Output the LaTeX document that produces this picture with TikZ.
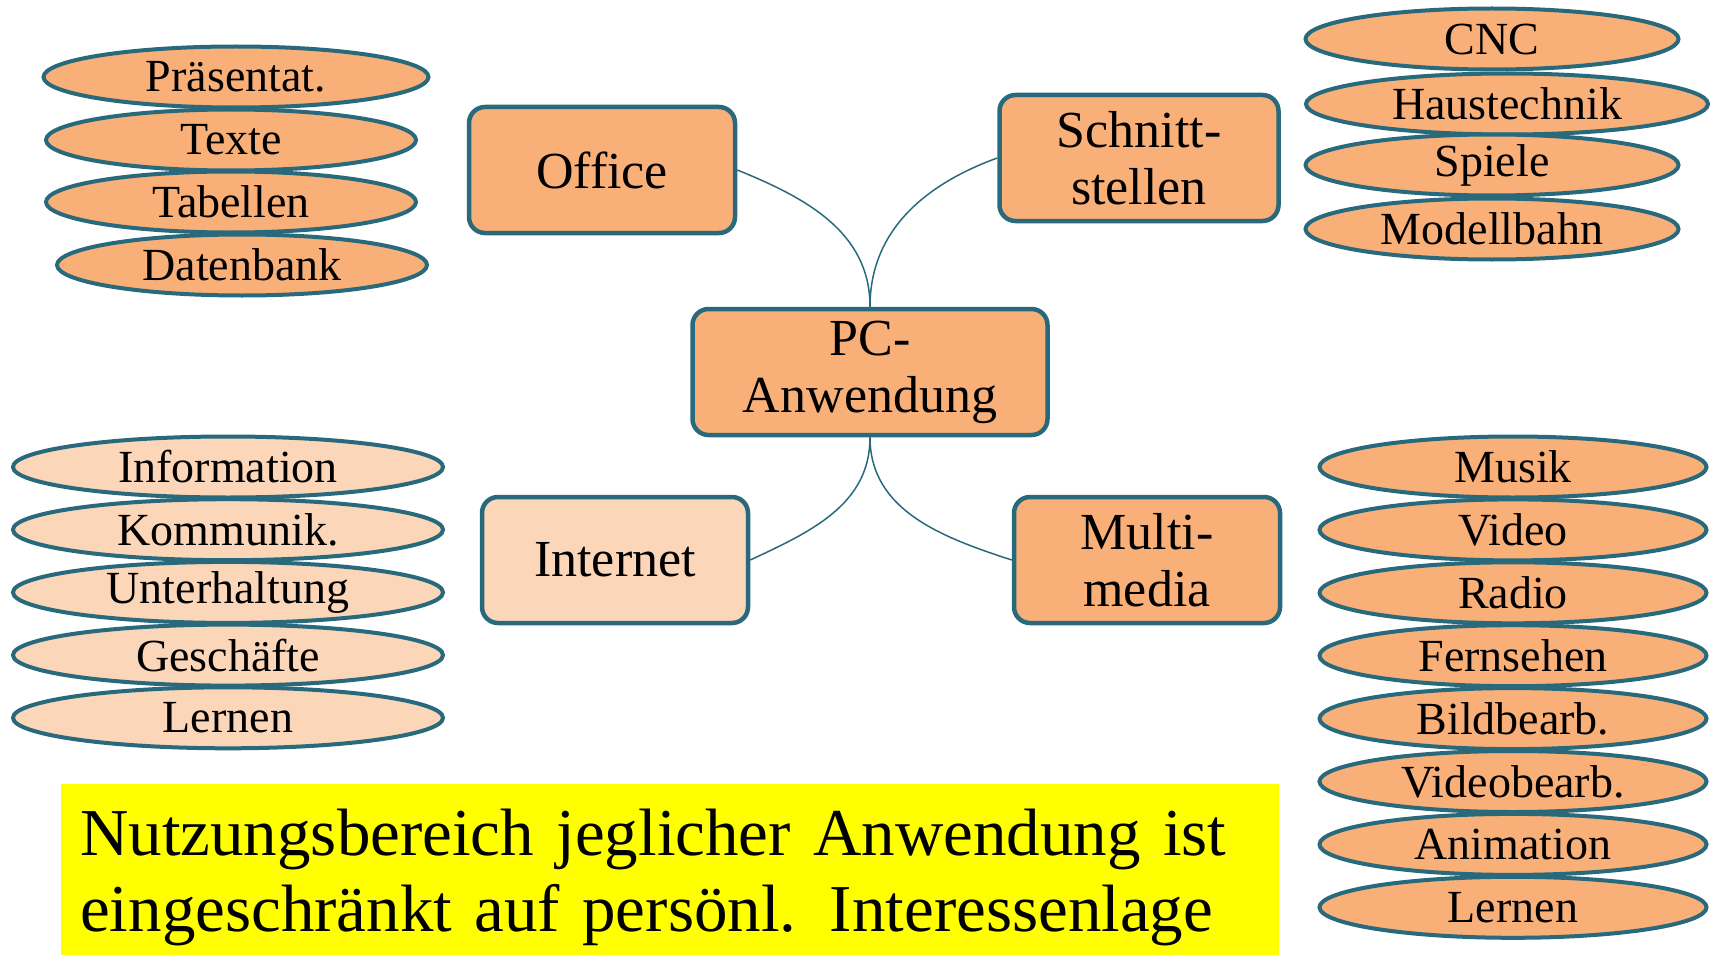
\documentclass[tikz,border=0pt]{standalone}
\usepackage{fontspec}
\setmainfont{Liberation Serif}
\usetikzlibrary{shapes.geometric}
\definecolor{rand}{RGB}{40,106,124}
\definecolor{orangeA}{RGB}{248,175,120}
\definecolor{orangeB}{RGB}{251,214,184}
\definecolor{gelb}{RGB}{255,255,0}
\tikzset{
  kasten/.style={draw=rand, line width=4.5pt, rounded corners=16pt, fill=orangeA, minimum width=266pt, minimum height=126pt, inner sep=0pt, align=center, font=\fontsize{52}{57}\selectfont},
  blase/.style={ellipse, draw=rand, line width=4pt, fill=orangeA, minimum height=61pt, inner sep=0pt, font=\fontsize{46}{50}\selectfont},
  ast/.style={draw=rand, line width=1.5pt}
}
\begin{document}
\begin{tikzpicture}[x=1pt,y=1pt]
        \useasboundingbox (0,0) rectangle (1716,-955); % Rand wie im Original
        % Hauptknoten
        \node[kasten, minimum width=355pt] (pc) at (870,-372) {PC-\\Anwendung};
        \node[kasten] (office) at (602,-170) {Office};
        \node[kasten, minimum width=279pt] (schnitt) at (1139,-158) {Schnitt-\\stellen};
        \node[kasten, fill=orangeB] (internet) at (615,-560) {Internet};
        \node[kasten] (multi) at (1147,-560) {Multi-\\media};
        % Verbindungen
        \draw[ast] (pc.north) to[out=90,in=-22] (office.east);
        \draw[ast] (pc.north) to[out=90,in=200] (schnitt.west);
        \draw[ast] (pc.south) to[out=-90,in=25] (internet.east);
        \draw[ast] (pc.south) to[out=-90,in=162] (multi.west);
        % Office
        \node[blase, minimum width=385pt] (off1) at (236,-77) {Präsentat.};
        \node[blase, minimum width=370pt] (off2) at (231,-140) {Texte};
        \node[blase, minimum width=370pt] (off3) at (231,-202) {Tabellen};
        \node[blase, minimum width=370pt] (off4) at (242,-265) {Datenbank};
        % Schnittstellen
        \node[blase, minimum width=373pt] (sch1) at (1492,-39) {CNC};
        \node[blase, minimum width=402pt] (sch2) at (1507,-104) {Haustechnik};
        \node[blase, minimum width=373pt] (sch3) at (1492,-165) {Spiele};
        \node[blase, minimum width=373pt] (sch4) at (1492,-229) {Modellbahn};
        % Internet
        \foreach \t [count=\i] in {Information,Kommunik.,Unterhaltung,Geschäfte,Lernen}
          \node[blase, fill=orangeB, minimum width=430pt] (inet\i) at (228,{-467-62.7*(\i-1)}) {\t};
        % Multimedia
        \foreach \t [count=\i] in {Musik,Video,Radio,Fernsehen,Bildbearb.,Videobearb.,Animation,Lernen}
          \node[blase, minimum width=387pt] (mm\i) at (1513,{-467-62.9*(\i-1)}) {\t};
        % Hinweis unten
        \node[fill=gelb, anchor=north west, minimum width=1218pt, minimum height=171pt, text width=1190pt, inner xsep=14pt, inner ysep=0pt, align=left, font=\fontsize{67}{76}\selectfont] (hinweis) at (61,-784) {\rule{0pt}{62pt}\hspace*{5pt}Nutzungsbereich jeglicher Anwendung ist\\\hspace*{5pt}eingeschränkt auf persönl. Interessenlage};
\end{tikzpicture}
\end{document}
